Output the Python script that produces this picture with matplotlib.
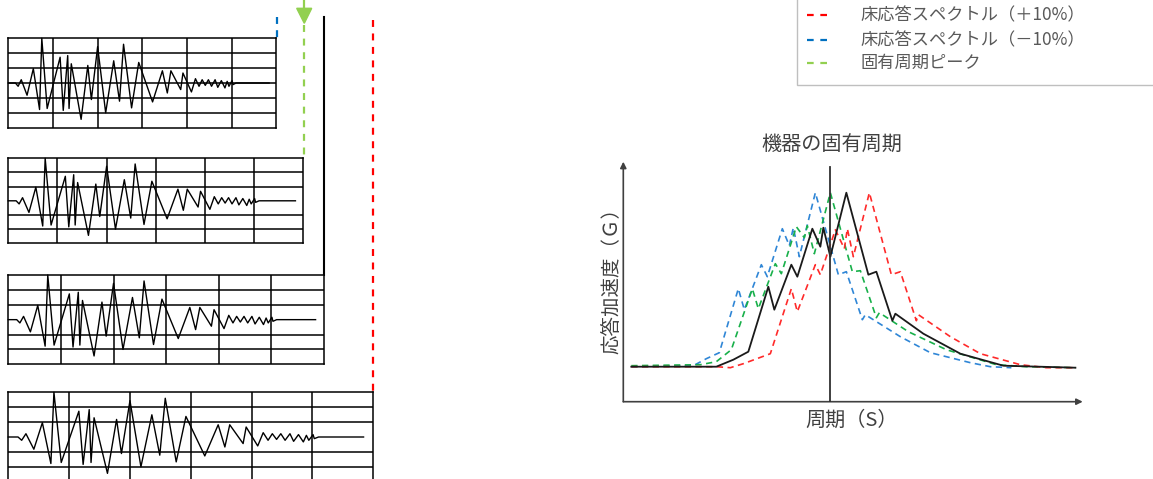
import matplotlib
matplotlib.use("Agg")
import matplotlib.pyplot as plt
from matplotlib.patches import Polygon, Rectangle

plt.rcParams['font.family'] = ['Noto Sans CJK JP', 'DejaVu Sans']
plt.rcParams['lines.scale_dashes'] = False

# ---------------- data ----------------
# floor acceleration waveform (time in grid columns, amplitude in grid rows)
wave_t = [0.00, 0.16, 0.22, 0.29, 0.42, 0.56, 0.70, 0.75, 0.87, 1.16, 1.23, 1.33,
          1.36, 1.41, 1.63, 1.78, 1.86, 2.00, 2.18, 2.36, 2.49, 2.58, 2.76, 2.92,
          3.23, 3.45, 3.56, 3.64, 3.86, 3.91, 4.10, 4.19, 4.27, 4.34, 4.41, 4.48,
          4.55, 4.63, 4.69, 4.77, 4.85, 4.90, 4.94, 5.01, 5.03, 5.10, 5.84]
wave_a = [0.00, 0.00, -0.22, 0.22, -0.82, 0.96, -1.78, 3.00, -1.71, 1.73, -1.84, 1.84,
          -1.71, 1.29, -2.44, 1.18, -1.11, 2.44, -2.00, 1.49, -1.22, 2.60, -1.67, 1.38,
          -1.27, 0.82, -0.67, 0.82, -0.44, 0.67, -0.60, 0.29, -0.22, 0.22, -0.16, 0.22,
          -0.22, 0.22, -0.29, 0.16, -0.33, 0.11, -0.22, 0.16, -0.11, 0.00, 0.00]

# response spectra (period, acceleration)
base_p = [0.08, 0.93, 1.10, 1.25, 1.45, 1.51, 1.68, 1.74, 1.89, 1.97, 2.00, 2.07,
          2.23, 2.45, 2.53, 2.69, 2.72, 3.00, 3.37, 3.80, 4.52]
base_a = [0.35, 0.35, 0.42, 0.50, 1.15, 0.92, 1.37, 1.25, 1.73, 1.55, 1.74, 1.45,
          2.09, 1.27, 1.30, 0.81, 0.88, 0.68, 0.48, 0.36, 0.34]

minus_p = [0.08, 0.70, 0.83, 0.96, 1.15, 1.21, 1.38, 1.44, 1.59, 1.66, 1.70, 1.76,
           1.92, 2.15, 2.23, 2.39, 2.42, 2.77, 3.07, 3.47, 3.67, 3.88]
minus_a = [0.35, 0.36, 0.43, 0.49, 1.13, 0.92, 1.37, 1.25, 1.73, 1.56, 1.74, 1.45,
           2.09, 1.27, 1.30, 0.82, 0.87, 0.65, 0.49, 0.39, 0.35, 0.34]

peak_p = [0.08, 0.77, 0.93, 1.08, 1.29, 1.35, 1.52, 1.58, 1.73, 1.81, 1.84, 1.91,
          2.07, 2.29, 2.37, 2.53, 2.56, 2.85, 3.23, 3.73, 4.03, 4.52]
peak_a = [0.36, 0.37, 0.40, 0.52, 1.13, 0.93, 1.38, 1.28, 1.75, 1.64, 1.76, 1.48,
          2.09, 1.30, 1.31, 0.84, 0.89, 0.70, 0.52, 0.37, 0.35, 0.34]

plus_p = [0.08, 0.93, 1.07, 1.20, 1.47, 1.68, 1.74, 1.92, 1.97, 2.12, 2.21, 2.24,
          2.30, 2.46, 2.68, 2.77, 2.93, 2.95, 3.27, 3.57, 3.97, 4.23, 4.52]
plus_a = [0.35, 0.35, 0.34, 0.38, 0.48, 1.13, 0.90, 1.37, 1.27, 1.72, 1.53, 1.73,
          1.45, 2.09, 1.27, 1.30, 0.81, 0.87, 0.65, 0.48, 0.37, 0.34, 0.34]

natural_period = 2.07

legend_labels = ['床応答スペクトル（＋10%）', '床応答スペクトル（－10%）', '固有周期ピーク']
title_text = '機器の固有周期'
xlabel_text = '周期（S）'
ylabel_text = '応答加速度（Ｇ）'

# ---------------- layout ----------------
W, H = 1153, 479
fig = plt.figure(figsize=(W / 100, H / 100), dpi=100)


def rect(x0, y0, x1, y1):
    return [x0 / W, 1 - y1 / H, (x1 - x0) / W, (y1 - y0) / H]


# background canvas in pixel coordinates for connectors/legend
bg = fig.add_axes([0, 0, 1, 1])
bg.set_xlim(0, W)
bg.set_ylim(H, 0)
bg.axis('off')

# waveform panels
panels = [(8.3, 38.3, 276.3, 127.7, True),
          (8.3, 158.3, 303.3, 243.3, False),
          (8.3, 275.0, 324.0, 364.3, False),
          (8.3, 392.3, 373.3, 481.7, False)]
for x0, y0, x1, y1, midline in panels:
    ax = fig.add_axes(rect(x0, y0, x1, y1))
    ax.set_xlim(0, 6)
    ax.set_ylim(-3, 3)
    ax.set_xticks([])
    ax.set_yticks([])
    for s in ax.spines.values():
        s.set_linewidth(1.1)
        s.set_color('black')
    for xv in range(1, 6):
        ax.axvline(xv, color='black', lw=1.1)
    for yv in [-2, -1, 1, 2] + ([0] if midline else []):
        ax.axhline(yv, color='black', lw=1.1)
    ax.plot(wave_t, wave_a, color='black', lw=1.0, clip_on=False)

# connectors
red = '#FF0000'
blue_c = '#0070C0'
lgreen = '#92D050'
bg.plot([276.6, 276.6], [17, 38], color=blue_c, lw=1.6, dashes=(5, 4.5))
bg.plot([304.3, 304.3], [0, 9], color=lgreen, lw=1.6)
bg.add_patch(Polygon([(296.7, 8.3), (311.7, 8.3), (304.3, 23.3)], closed=True,
                     facecolor=lgreen, edgecolor=lgreen))
bg.plot([304.3, 304.3], [25, 158], color=lgreen, lw=1.6, dashes=(5, 4.8))
bg.plot([324.3, 324.3], [16.7, 275], color='black', lw=1.5)
bg.plot([373.3, 373.3], [20, 392], color=red, lw=1.6, dashes=(5, 4.7))

# legend box
bg.add_patch(Rectangle((796.7, -5), 400, 90, facecolor='none', edgecolor='#BFBFBF', lw=1.0))
leg_y = [15, 40, 63]
leg_c = [red, blue_c, lgreen]
for yy, cc, lab in zip(leg_y, leg_c, legend_labels):
    bg.plot([806.7, 826.7], [yy, yy], color=cc, lw=1.6, dashes=(4.8, 4.8))
    bg.text(860, yy, lab, fontsize=12.4, color='#595959', va='center', ha='left')

# spectrum chart
sp = fig.add_axes(rect(623.3, 161.7, 1082.7, 401.7))
sp.set_xlim(0, 4.593)
sp.set_ylim(0, 2.4)
sp.axis('off')
axc = '#404040'
sp.annotate('', xy=(1, 0), xytext=(0, 0), xycoords='axes fraction',
            arrowprops=dict(arrowstyle='-|>', color=axc, lw=1.2, shrinkA=0, shrinkB=0,
                            mutation_scale=9))
sp.annotate('', xy=(0, 1), xytext=(0, 0), xycoords='axes fraction',
            arrowprops=dict(arrowstyle='-|>', color=axc, lw=1.2, shrinkA=0, shrinkB=0,
                            mutation_scale=9))
sp.plot([natural_period, natural_period], [0, 2.35], color='#303030', lw=1.3, zorder=5)

dash = (4.5, 3.2)
sp.plot(minus_p, minus_a, color='#2F86D6', lw=1.2, dashes=dash, zorder=2)
sp.plot(peak_p, peak_a, color='#18B04A', lw=1.2, dashes=dash, zorder=3)
sp.plot(plus_p, plus_a, color='#FF2A2A', lw=1.2, dashes=dash, zorder=3)
sp.plot(base_p, base_a, color='#1A1A1A', lw=1.3, zorder=4)

fig.text(832 / W, 1 - 145 / H, title_text, fontsize=14.5, color='#404040',
         ha='center', va='center')
fig.text(852 / W, 1 - 420 / H, xlabel_text, fontsize=14.5, color='#404040',
         ha='center', va='center')
fig.text(611.7 / W, 1 - 276 / H, ylabel_text, fontsize=14, color='#404040',
         ha='center', va='center', rotation=90)

fig.savefig('out.png', dpi=100)
